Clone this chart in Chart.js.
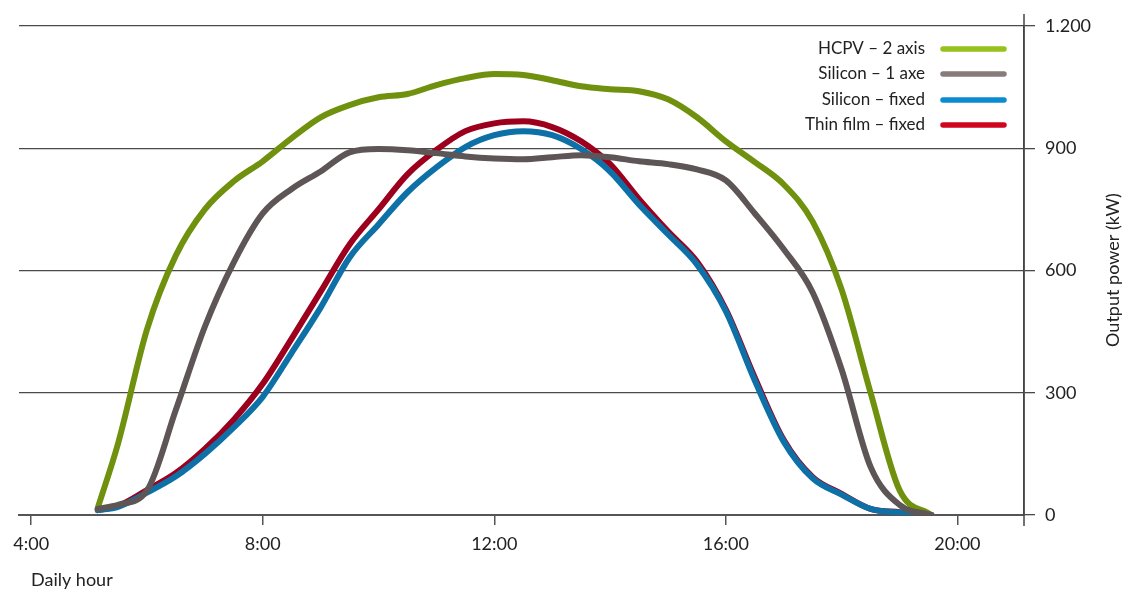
<!DOCTYPE html>
<html lang="en">
<head>
    <meta charset="UTF-8">
    <title>Output power by daily hour</title>
    <script src="https://cdn.jsdelivr.net/npm/chart.js@4.4.0/dist/chart.umd.min.js"></script>
    <style>
        html, body { margin: 0; padding: 0; background: #fff; }
        #wrap { width: 1134px; height: 594px; }
    </style>
</head>
<body>
    <div id="wrap"><canvas id="myChart" width="1134" height="594"></canvas></div>
    <script>
        // hours of the day (decimal) shared by every series
        var hours = [5.15, 5.5, 6, 6.5, 7, 7.5, 8, 8.5, 9, 9.5, 10, 10.5, 11, 11.5, 12,
                     12.5, 13, 13.5, 14, 14.5, 15, 15.5, 16, 16.5, 17, 17.5, 18, 18.5, 19, 19.55];

        // output power in kW
        var hcpv2Axis = [17, 175, 455, 637, 750, 819, 868, 925, 976, 1006, 1025, 1033, 1055, 1072, 1082,
                         1080, 1067, 1052, 1045, 1040, 1020, 976, 917, 866, 811, 720, 553, 300, 61, 0];
        var silicon1Axe = [15, 25, 60, 258, 462, 620, 740, 800, 843, 890, 898, 895, 888, 880, 875,
                           873, 878, 883, 878, 868, 861, 848, 821, 740, 652, 546, 357, 118, 25, 0];
        var siliconFixed = [12, 20, 55, 95, 150, 215, 290, 398, 509, 632, 713, 792, 853, 903, 932,
                            942, 932, 898, 843, 762, 689, 615, 500, 330, 180, 90, 50, 15, 6, 0];
        var thinFilmFixed = [12, 22, 61, 103, 162, 234, 322, 433, 548, 664, 750, 836, 896, 942, 961,
                             966, 952, 917, 861, 775, 696, 622, 504, 337, 184, 93, 52, 15, 7, 0];

        var seriesNames = ['HCPV \u2013 2 axis', 'Silicon \u2013 1 axe', 'Silicon \u2013 fixed', 'Thin film \u2013 fixed'];
        var xTicks = [4, 8, 12, 16, 20];
        var yTicks = [0, 300, 600, 900, 1200];

        var legendColors = ['#97c11c', '#877c7c', '#0b8bd0', '#d0051e'];
        var outerColors = ['#70910e', '#5e5656', '#0d70a6', '#9c001c'];
        var innerColors = ['#92bc1a', '#8c8282', '#1a92d4', '#cc142f'];

        var FONT = 'Lato, "Open Sans", sans-serif';

        function pts(vals) {
            return hours.map(function (h, i) { return { x: h, y: vals[i] }; });
        }

        // draw order: gray, green, blue, red (red ends up on top)
        var order = [1, 0, 2, 3];
        var allValues = [hcpv2Axis, silicon1Axe, siliconFixed, thinFilmFixed];
        var datasets = [];
        order.forEach(function (k) {
            datasets.push({
                label: seriesNames[k] + ' edge',
                data: pts(allValues[k]),
                borderColor: outerColors[k],
                borderWidth: 6,
                pointRadius: 0,
                cubicInterpolationMode: 'monotone',
                borderCapStyle: 'round',
                fill: false
            });
            datasets.push({
                label: seriesNames[k],
                data: pts(allValues[k]),
                borderColor: innerColors[k],
                borderWidth: 3.8,
                pointRadius: 0,
                cubicInterpolationMode: 'monotone',
                borderCapStyle: 'round',
                fill: false
            });
        });

        var extras = {
            id: 'extras',
            afterDraw: function (chart) {
                var ctx = chart.ctx;
                var area = chart.chartArea;
                ctx.save();

                // right axis runs a bit past the plot
                ctx.strokeStyle = '#444';
                ctx.lineWidth = 1.5;
                ctx.beginPath();
                ctx.moveTo(area.right, area.top - 12);
                ctx.lineTo(area.right, area.bottom + 11);
                ctx.stroke();

                ctx.fillStyle = '#222';
                ctx.font = '18px ' + FONT;
                ctx.textAlign = 'left';
                ctx.textBaseline = 'middle';
                ctx.fillText('Daily hour', 31, 580);

                ctx.save();
                ctx.translate(1113, 270);
                ctx.rotate(-Math.PI / 2);
                ctx.textAlign = 'center';
                ctx.fillText('Output power (kW)', 0, 0);
                ctx.restore();

                // legend: text right aligned, line sample after it
                ctx.font = '17px ' + FONT;
                ctx.textAlign = 'right';
                var rows = [49, 74, 100, 125];
                for (var i = 0; i < seriesNames.length; i++) {
                    ctx.fillStyle = '#222';
                    ctx.fillText(seriesNames[i], 925, rows[i]);
                    ctx.strokeStyle = legendColors[i];
                    ctx.lineWidth = 5.5;
                    ctx.lineCap = 'round';
                    ctx.beginPath();
                    ctx.moveTo(943, rows[i]);
                    ctx.lineTo(1004, rows[i]);
                    ctx.stroke();
                }
                ctx.restore();
            }
        };

        var ctx = document.getElementById('myChart').getContext('2d');
        var myChart = new Chart(ctx, {
            type: 'line',
            data: { datasets: datasets },
            options: {
                responsive: false,
                animation: false,
                devicePixelRatio: 1,
                layout: { padding: { left: 19, top: 26, right: 0, bottom: 0 } },
                plugins: {
                    legend: { display: false },
                    tooltip: { enabled: false }
                },
                scales: {
                    x: {
                        type: 'linear',
                        min: 3.79,
                        max: 21.15,
                        afterBuildTicks: function (s) {
                            s.ticks = xTicks.map(function (v) { return { value: v }; });
                        },
                        afterFit: function (s) { s.height = 79; },
                        ticks: {
                            callback: function (v) { return v + ':00'; },
                            font: { size: 18, family: FONT },
                            color: '#222',
                            padding: 8,
                            maxRotation: 0
                        },
                        grid: {
                            drawOnChartArea: false,
                            tickLength: 10,
                            color: '#555',
                            lineWidth: 1.5
                        },
                        border: { display: true, color: '#555', width: 2 }
                    },
                    y: {
                        position: 'right',
                        min: 0,
                        max: 1200,
                        afterBuildTicks: function (s) {
                            s.ticks = yTicks.map(function (v) { return { value: v }; });
                        },
                        afterFit: function (s) { s.width = 110; },
                        ticks: {
                            callback: function (v) {
                                return String(v).replace(/\B(?=(\d{3})+(?!\d))/g, '.');
                            },
                            font: { size: 18, family: FONT },
                            color: '#222',
                            padding: 10
                        },
                        grid: {
                            color: '#4a4a4a',
                            lineWidth: 1.3,
                            tickLength: 11
                        },
                        border: { display: true, color: '#444', width: 1.5 }
                    }
                }
            },
            plugins: [extras]
        });
    </script>
</body>
</html>
